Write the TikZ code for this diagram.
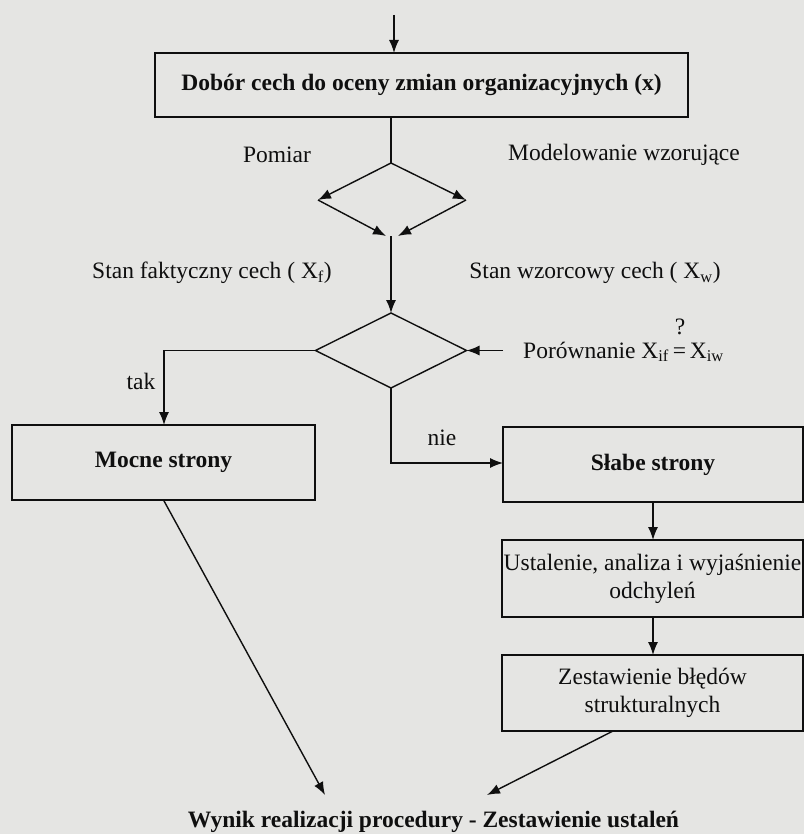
\documentclass[tikz,border=0pt]{standalone}
\usepackage{fontspec}
\setmainfont{Liberation Serif}
\usetikzlibrary{arrows.meta,shapes.geometric}
\definecolor{paper}{RGB}{229,229,227}
\definecolor{ink}{RGB}{15,15,15}
\tikzset{
  box/.style={draw=ink, line width=1.4pt, rectangle, inner sep=0pt, outer sep=0pt, align=center, text=ink},
  lbl/.style={inner sep=0pt, text=ink},
  conn/.style={draw=ink, line width=1.4pt},
  arr/.style={conn, -{Latex[length=13pt,width=10pt]}},
}
\begin{document}
\begin{tikzpicture}[x=1pt,y=-1pt, font=\fontsize{23.5}{28}\selectfont]
\fill[paper] (0,0) rectangle (804,834);
\useasboundingbox (0,0) rectangle (804,834);
% boxes
\node[box, minimum width=533pt, minimum height=64pt, font=\fontsize{23.5}{28}\selectfont\bfseries] (b1) at (421.5,85) {Dobór cech do oceny zmian organizacyjnych (x)};
\node[box, minimum width=303pt, minimum height=75pt, font=\fontsize{23.5}{28}\selectfont\bfseries] (mocne) at (163.5,462.5) {Mocne strony};
\node[box, minimum width=300pt, minimum height=75pt, font=\fontsize{23.5}{28}\selectfont\bfseries] (slabe) at (653,464.5) {Słabe strony};
\node[box, minimum width=301pt, minimum height=77pt] (ust) at (652.5,578.5) {Ustalenie, analiza i wyjaśnienie\\odchyleń};
\node[box, minimum width=301pt, minimum height=76pt] (zest) at (652.5,693) {Zestawienie błędów\\strukturalnych};
\node[draw=ink, line width=1.4pt, diamond, minimum width=151pt, minimum height=75pt, inner sep=0pt, outer sep=0pt] (d2) at (391,350.5) {};
% coordinates
\coordinate (top) at (394,15);
\coordinate (d1t) at (391,163);
\coordinate (d1l) at (318,200);
\coordinate (d1r) at (466,200);
\coordinate (d1bl) at (386,236);
\coordinate (d1br) at (398,236);
\coordinate (d1b) at (391,236);
\coordinate (cmp) at (503,350.5);
\coordinate (takc) at (164,350.5);
\coordinate (niec) at (391,463);
% labels
\node[lbl] (pomiar) at (277,155) {Pomiar};
\node[lbl] (model) at (624,155) {Modelowanie wzorujące};
\node[lbl] (sf) at (212,273) {Stan faktyczny cech ( X\textsubscript{f})};
\node[lbl] (sw) at (595,273) {Stan wzorcowy cech ( X\textsubscript{w})};
\node[lbl, anchor=west] (por) at (523,352) {Porównanie X\textsubscript{if}\,=\,X\textsubscript{iw}};
\node[lbl] (q) at (680,327) {?};
\node[lbl] (tak) at (141,381) {tak};
\node[lbl] (nie) at (442,438) {nie};
\node[lbl, font=\fontsize{23.5}{28}\selectfont\bfseries] (wynik) at (433.5,822) {Wynik realizacji procedury - Zestawienie ustaleń};
\coordinate (wl) at (325,795);
\coordinate (wr) at (487,795);
% connectors
\draw[arr] (top) -- (b1.north -| top);
\draw[conn] (b1.south -| d1t) -- (d1t);
\draw[arr] (d1t) -- (d1l);
\draw[arr] (d1t) -- (d1r);
\draw[arr] (d1l) -- (d1bl);
\draw[arr] (d1r) -- (d1br);
\draw[arr] (d1b) -- (d2.north);
\draw[arr] (cmp) -- (d2.east);
\draw[arr] (d2.west) -- (takc) -- (mocne.north -| takc);
\draw[arr] (d2.south) -- (niec) -- (slabe.west |- niec);
\draw[arr] (slabe.south) -- (ust.north -| slabe.south);
\draw[arr] (ust.south -| slabe.south) -- (zest.north -| slabe.south);
\draw[arr] (mocne.south) -- (wl);
\draw[arr] (zest.south -| 613,0) -- (wr);
\end{tikzpicture}
\end{document}
